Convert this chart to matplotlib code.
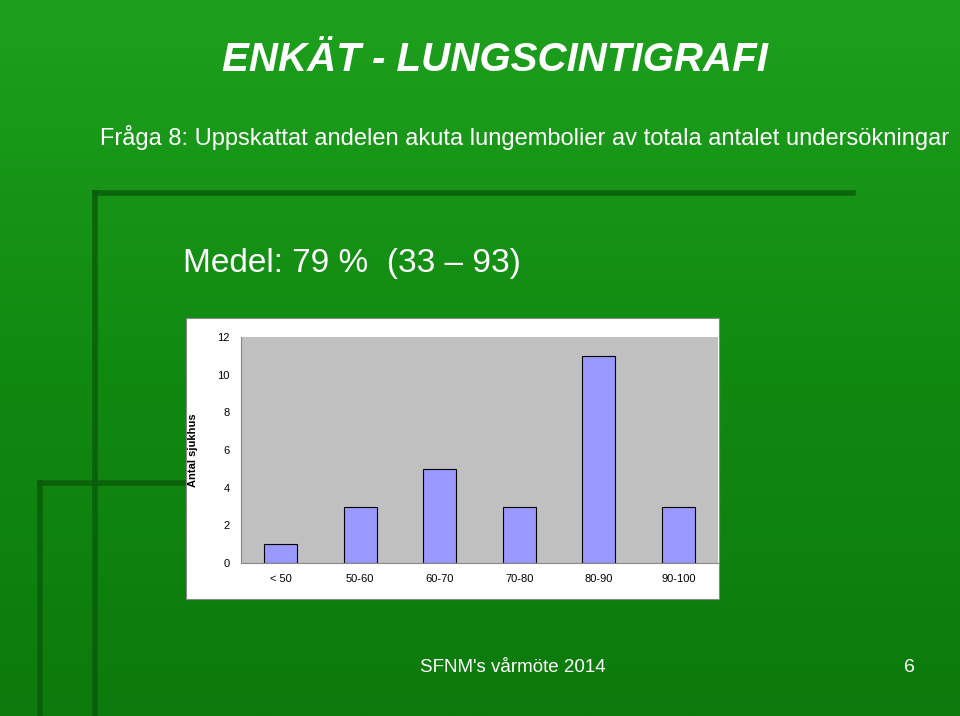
import matplotlib
matplotlib.use("Agg")
import matplotlib.pyplot as plt
import numpy as np
from matplotlib.lines import Line2D
from matplotlib.patches import Rectangle
from matplotlib.colors import LinearSegmentedColormap

categories = ["< 50", "50-60", "60-70", "70-80", "80-90", "90-100"]
values = [1, 3, 5, 3, 11, 3]
yticks = [0, 2, 4, 6, 8, 10, 12]

W, H = 960, 716
fig = plt.figure(figsize=(9.6, 7.16), dpi=100)

bg = fig.add_axes([0, 0, 1, 1])
grad = np.linspace(0, 1, 256).reshape(-1, 1)
cmap = LinearSegmentedColormap.from_list("g", ["#1ea01e", "#118a11", "#0c7a0c"])
bg.imshow(grad, aspect="auto", cmap=cmap, extent=[0, 1, 0, 1])
bg.set_axis_off()

def fx(x): return x / W
def fy(y): return 1 - y / H
dark = "#0a5a0a"
for (x0, y0, x1, y1) in [(95, 193, 853, 193), (95, 193, 95, 716), (40, 483, 300, 483), (40, 483, 40, 716)]:
    bg.add_line(Line2D([fx(x0), fx(x1)], [fy(y0), fy(y1)], color=dark, lw=4, alpha=0.8,
                       transform=fig.transFigure))
bg.add_patch(Rectangle((fx(186), fy(599)), fx(719 - 186), (599 - 318) / H, transform=fig.transFigure,
                       facecolor="white", edgecolor="#888888", lw=0.8, zorder=5))

fig.text(fx(495), fy(60), "ENKÄT - LUNGSCINTIGRAFI", color="white", fontsize=29,
         fontweight="bold", style="italic", ha="center", va="center", family="Liberation Sans")
fig.text(fx(100), fy(137), "Fråga 8: Uppskattat andelen akuta lungembolier av totala antalet undersökningar",
         color="white", fontsize=17, ha="left", va="center", family="Liberation Sans")
fig.text(fx(183), fy(264), "Medel: 79 %  (33 – 93)", color="white", fontsize=24,
         ha="left", va="center", family="Liberation Sans")
fig.text(fx(420), fy(668), "SFNM's vårmöte 2014", color="white", fontsize=13.5, ha="left", va="center",
         family="Liberation Sans")
fig.text(fx(915), fy(668), "6", color="white", fontsize=14, ha="right", va="center", family="Liberation Sans")

ax = fig.add_axes([fx(241), fy(563), fx(718 - 241), (563 - 337) / H])
ax.set_facecolor("#c0c0c0")
x = np.arange(len(categories))
ax.bar(x, values, width=0.42, color="#9999ff", edgecolor="black", lw=0.8)
ax.set_xlim(-0.5, len(categories) - 0.5)
ax.set_ylim(0, 12)
ax.set_yticks(yticks)
ax.set_xticks(x)
ax.set_xticklabels(categories, fontsize=8, family="Liberation Sans")
ax.set_yticklabels([str(v) for v in yticks], fontsize=8, family="Liberation Sans")
ax.tick_params(length=0, pad=8)
for s in ["top", "right"]:
    ax.spines[s].set_visible(False)
ax.spines["left"].set_color("#888888")
ax.spines["bottom"].set_color("#888888")
ax.set_ylabel("Antal sjukhus", fontsize=8, fontweight="bold", family="Liberation Sans", labelpad=14)

fig.savefig("out.png", dpi=100)
